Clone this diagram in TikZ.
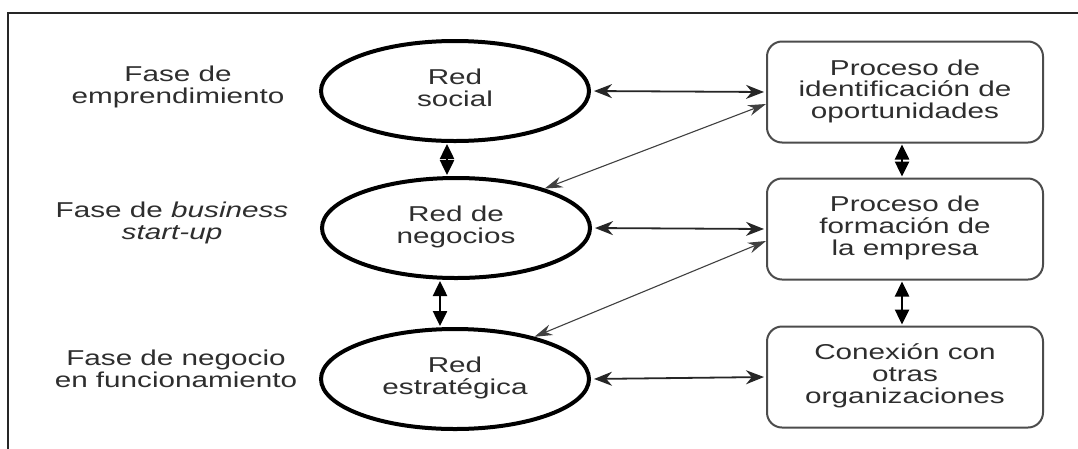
\documentclass[tikz,border=0pt]{standalone}
\usepackage{fontspec}
\usepackage{graphicx}
\setmainfont{Liberation Sans}
\usetikzlibrary{shapes.geometric,arrows.meta}
\newcommand{\wtxt}[2][22.5]{\scalebox{1.38}[1]{\renewcommand{\arraystretch}{1}\fontsize{21.5}{#1}\selectfont\begin{tabular}{@{}c@{}}#2\end{tabular}}}
\tikzset{
  redell/.style={ellipse, draw=black, line width=4pt, minimum width=268pt, minimum height=100pt, inner sep=0pt, align=center, text=black!82},
  procbox/.style={rectangle, rounded corners=15pt, draw=black!70, line width=2pt, minimum width=276pt, minimum height=101pt, inner sep=0pt, align=center, text=black!82},
  phaselbl/.style={align=center, text=black!82, inner sep=0pt},
  harrow/.style={draw=black!85, line width=1.8pt, {Stealth[length=18pt,width=14pt]}-{Stealth[length=18pt,width=14pt]}, shorten <=3pt, shorten >=2pt},
  darrow/.style={draw=black!75, line width=1.1pt, {Stealth[length=18pt,width=11pt]}-{Stealth[length=18pt,width=11pt]}},
  varrow/.style={draw=black, line width=2.5pt, {Triangle[length=15pt,width=14pt]}-{Triangle[length=15pt,width=14pt]}, shorten <=1pt, shorten >=1pt},
}
\begin{document}
\begin{tikzpicture}[x=1pt,y=-1pt]
\useasboundingbox (0,0) rectangle (1078,448);
\clip (0,0) rectangle (1078,448);
\fill[white] (0,0) rectangle (1078,448);
\draw[black!85, line width=2pt] (8,13) rectangle (1100,470);

% left labels
\node[phaselbl] (l1) at (178,88) {\wtxt[22]{Fase de\\emprendimiento}};
\node[phaselbl] (l2) at (172,224) {\wtxt[22]{Fase de \textit{business}\\\textit{start-up}}};
\node[phaselbl] (l3) at (176,372) {\wtxt[22]{Fase de negocio\\en funcionamiento}};

% ellipses
\node[redell] (s) at (455,91) {\wtxt{Red\\social}};
\node[redell] (n) at (456,228) {\wtxt{Red de\\negocios}};
\node[redell] (e) at (455,379) {\wtxt{Red\\estratégica}};

% boxes
\node[procbox] (b1) at (905,92) {\wtxt[19.5]{Proceso de\\identificación de\\oportunidades}};
\node[procbox] (b2) at (905,229) {\wtxt[21.5]{Proceso de\\formación de\\la empresa}};
\node[procbox] (b3) at (905,377) {\wtxt[22]{Conexión con\\otras\\organizaciones}};

% horizontal arrows
\draw[harrow] (s.east) -- (b1.west);
\draw[harrow] (n.east) -- (b2.west);
\draw[harrow] (e.east) -- (b3.west);

% diagonal arrows
\draw[darrow] ([yshift=-12pt]b1.west) -- (n.24);
\draw[darrow] ([yshift=-12pt]b2.west) -- (e.28);

% vertical arrows
\draw[varrow] ([xshift=-8pt]s.south) -- ([xshift=-9pt]n.north);
\draw[varrow] ([xshift=-16pt]n.south) -- ([xshift=-15pt]e.north);
\draw[varrow] ([xshift=-3pt]b1.south) -- ([xshift=-3pt]b2.north);
\draw[varrow] ([xshift=-3pt]b2.south) -- ([xshift=-3pt]b3.north);
\end{tikzpicture}
\end{document}
